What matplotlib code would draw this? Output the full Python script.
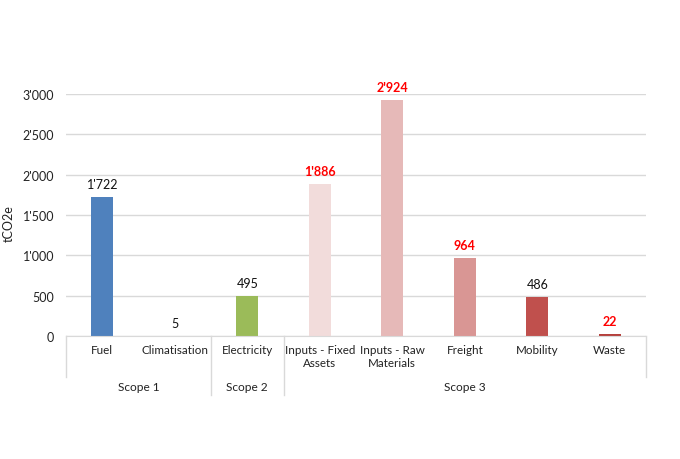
import matplotlib
matplotlib.use("Agg")
import matplotlib.pyplot as plt
from matplotlib.ticker import FuncFormatter
import matplotlib.transforms as mtransforms

plt.rcParams['font.family'] = ['Lato', 'DejaVu Sans']

categories = ["Fuel", "Climatisation", "Electricity", "Inputs - Fixed\nAssets",
              "Inputs - Raw\nMaterials", "Freight", "Mobility", "Waste"]
values = [1722, 5, 495, 1886, 2924, 964, 486, 22]
scopes = ["Scope 1", "Scope 2", "Scope 3"]
scope_sizes = [2, 1, 5]
bar_colors = ["#4F81BD", "#4F81BD", "#9BBB59", "#F2DCDB", "#E6B9B8",
              "#D99694", "#C0504D", "#B5403C"]
label_red = [False, False, False, True, True, True, False, True]
yticks = [0, 500, 1000, 1500, 2000, 2500, 3000]

W, H = 680, 460
fig = plt.figure(figsize=(6.8, 4.6), dpi=100)
left, right, bottom, top = 66, 646, 337, 95
ax = fig.add_axes([left / W, 1 - bottom / H, (right - left) / W, (bottom - top) / H])

x = list(range(len(categories)))
ax.bar(x, values, width=0.30, color=bar_colors, zorder=3)
ax.set_xlim(-0.5, len(categories) - 0.5)
ax.set_ylim(0, 3000)
ax.set_yticks(yticks)
ax.yaxis.set_major_formatter(FuncFormatter(lambda v, p: f"{int(v):,}".replace(",", "'")))
ax.tick_params(axis='y', length=0, labelsize=9, pad=8.5, colors="#222222")
ax.set_xticks([])
ax.grid(axis='y', color="#D9D9D9", lw=1, zorder=0)
for s in ["top", "right", "left"]:
    ax.spines[s].set_visible(False)
ax.spines["bottom"].set_color("#D9D9D9")
ax.spines["bottom"].set_zorder(4)
ax.set_ylabel("tCO2e", fontsize=9, color="#222222")
ax.yaxis.set_label_coords(-(left - 15) / (right - left), 0.47)

for xi, v, red in zip(x, values, label_red):
    ax.annotate(f"{v:,}".replace(",", "'"), (xi, v), xytext=(0, 5),
                textcoords="offset points", ha="center", va="bottom",
                fontsize=9, color="red" if red else "#111111",
                fontweight="bold" if red else "normal")

trans = mtransforms.blended_transform_factory(ax.transData, ax.transAxes)
ah = bottom - top
def ay(py):
    return -(py - bottom) / ah

for xi, c in zip(x, categories):
    ax.text(xi, ay(345), c, transform=trans, ha="center", va="top",
            fontsize=8.4, color="#222222", linespacing=1.25, clip_on=False)

lc = "#D9D9D9"
ax.plot([-0.5, -0.5], [0, ay(378)], transform=trans, color=lc, lw=1, clip_on=False)
ax.plot([7.5, 7.5], [0, ay(378)], transform=trans, color=lc, lw=1, clip_on=False)
start = 0
for i, (sname, n) in enumerate(zip(scopes, scope_sizes)):
    center = start + (n - 1) / 2
    ax.text(center, ay(388), sname, transform=trans, ha="center", va="center",
            fontsize=8.6, color="#222222", clip_on=False)
    end = start + n
    if i < len(scopes) - 1:
        ax.plot([end - 0.5, end - 0.5], [0, ay(396)], transform=trans, color=lc,
                lw=1, clip_on=False)
    start = end

fig.savefig("out.png", dpi=100)
